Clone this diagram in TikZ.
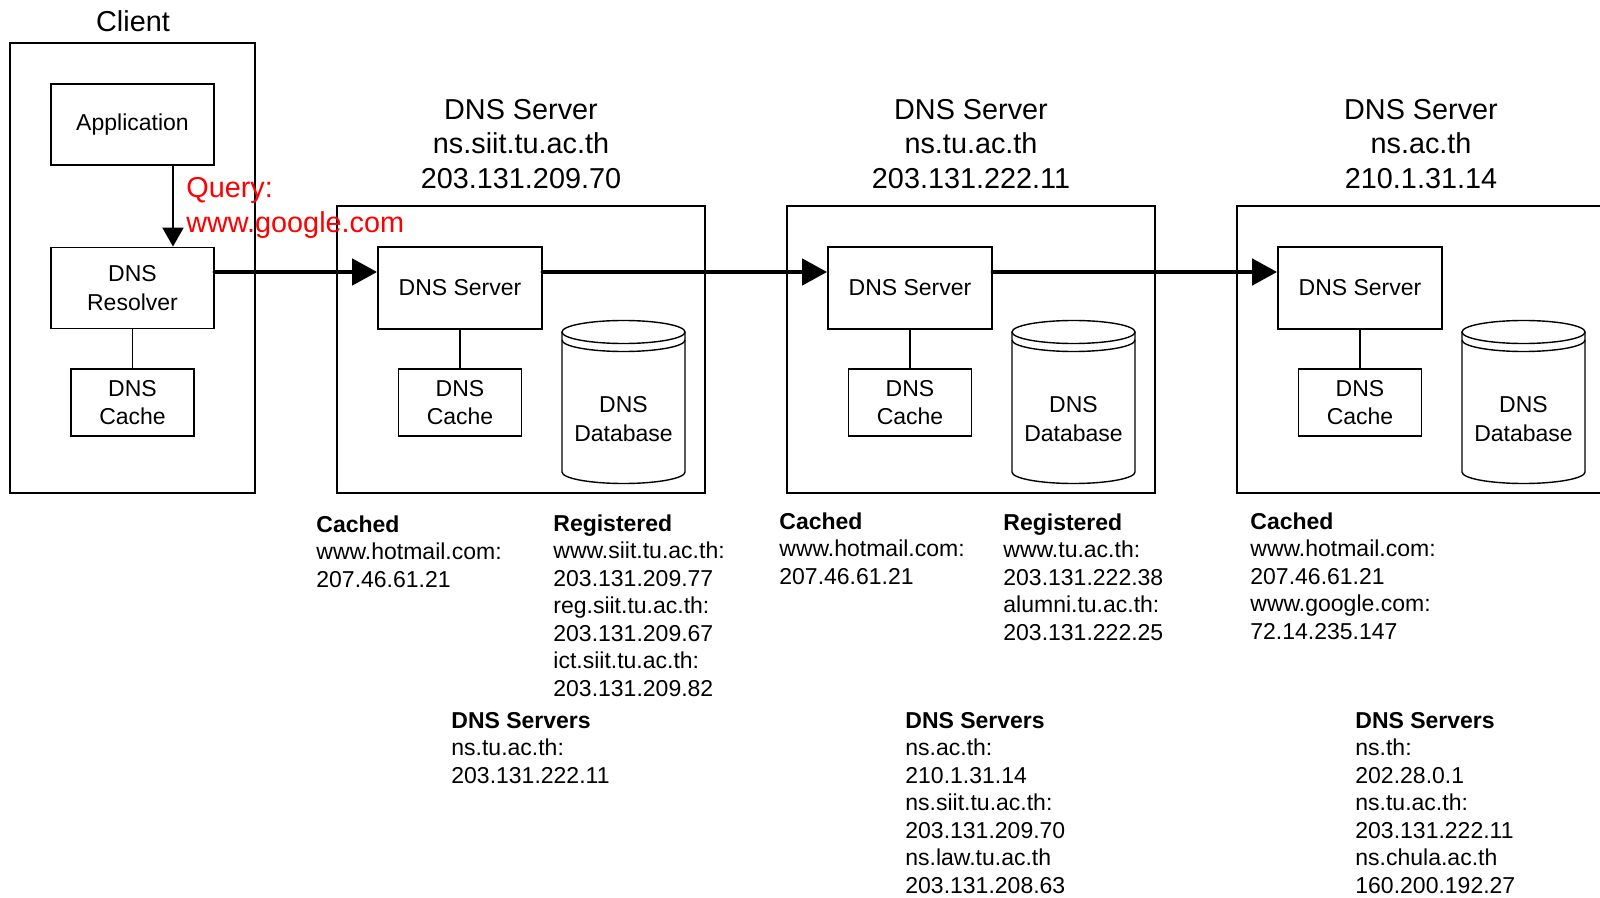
\documentclass[tikz,border=0pt]{standalone}
\usepackage{fontspec}
\setmainfont{Liberation Sans}
\usetikzlibrary{positioning}
\usetikzlibrary{arrows.meta}
\usetikzlibrary{calc}

\tikzset{
	blk/.style = {draw, line width=0.9pt, rectangle, inner sep=0pt, align=center, font=\fontsize{11.5}{14.3}\selectfont},
	outer/.style = {draw, line width=0.9pt, rectangle, inner sep=0pt},
	title/.style = {align=center, inner sep=0pt, font=\fontsize{14.4}{17.25}\selectfont},
	info/.style = {align=left, anchor=north west, inner sep=0pt, font=\fontsize{11.5}{13.75}\selectfont},
	link/.style = {line width=0.8pt},
	hop/.style = {line width=2.3pt, line cap=round, -{Triangle[length=12.5pt,width=13pt]}},
	query/.style = {line width=1pt, -{Triangle[length=9.5pt,width=10.5pt]}},
	drum/.style = {line width=0.7pt},
}

\begin{document}
\begin{tikzpicture}[x=0.5pt, y=-0.5pt]
		\path[use as bounding box] (0,0) rectangle (1600,898);

		% client side
		\node[outer, minimum width=122.5pt, minimum height=225pt] at (132.5,268) (client) {};
		\node[title] at (133,21) (clientlbl) {Client};
		\node[blk, minimum width=81.5pt, minimum height=40.5pt] at (132.5,124.5) (app) {Application};
		\node[blk, minimum width=81.5pt, minimum height=40.5pt] at (132.5,288) (res) {DNS\\Resolver};
		\node[blk, minimum width=61.5pt, minimum height=33.5pt] at (132.5,402.5) (ccache) {DNS\\Cache};

		% servers
		\node[outer, minimum width=184pt, minimum height=143.5pt] at (521,349.5) (box1) {};
		\node[outer, minimum width=184pt, minimum height=143.5pt] at (971,349.5) (box2) {};
		\begin{scope}
			\clip (0,0) rectangle (1600,898);
			\node[outer, minimum width=184pt, minimum height=143.5pt] at (1421,349.5) (box3) {};
		\end{scope}

		\node[title] at (521,144) (t1) {DNS Server\\ns.siit.tu.ac.th\\203.131.209.70};
		\node[title] at (971,144) (t2) {DNS Server\\ns.tu.ac.th\\203.131.222.11};
		\node[title] at (1421,144) (t3) {DNS Server\\ns.ac.th\\210.1.31.14};

		\node[blk, minimum width=82pt, minimum height=41pt] at (460,288) (srv1) {DNS Server};
		\node[blk, minimum width=82pt, minimum height=41pt] at (910,288) (srv2) {DNS Server};
		\node[blk, minimum width=82pt, minimum height=41pt] at (1360,288) (srv3) {DNS Server};

		\node[blk, minimum width=61.5pt, minimum height=33.5pt] at (460,402.5) (cache1) {DNS\\Cache};
		\node[blk, minimum width=61.5pt, minimum height=33.5pt] at (910,402.5) (cache2) {DNS\\Cache};
		\node[blk, minimum width=61.5pt, minimum height=33.5pt] at (1360,402.5) (cache3) {DNS\\Cache};

		% databases
		\draw[drum] (623.5,332) ellipse [x radius=30.75pt, y radius=5.75pt];
		\draw[drum] (562,332) -- (562,472) arc[start angle=180, end angle=360, x radius=30.75pt, y radius=5.75pt] -- (685,332);
		\draw[drum] (562,340) arc[start angle=180, end angle=360, x radius=30.75pt, y radius=5.75pt];
		\node[blk, draw=none] at (623.5,419) (db1) {DNS\\Database};

		\draw[drum] (1073.5,332) ellipse [x radius=30.75pt, y radius=5.75pt];
		\draw[drum] (1012,332) -- (1012,472) arc[start angle=180, end angle=360, x radius=30.75pt, y radius=5.75pt] -- (1135,332);
		\draw[drum] (1012,340) arc[start angle=180, end angle=360, x radius=30.75pt, y radius=5.75pt];
		\node[blk, draw=none] at (1073.5,419) (db2) {DNS\\Database};

		\draw[drum] (1523.5,332) ellipse [x radius=30.75pt, y radius=5.75pt];
		\draw[drum] (1462,332) -- (1462,472) arc[start angle=180, end angle=360, x radius=30.75pt, y radius=5.75pt] -- (1585,332);
		\draw[drum] (1462,340) arc[start angle=180, end angle=360, x radius=30.75pt, y radius=5.75pt];
		\node[blk, draw=none] at (1523.5,419) (db3) {DNS\\Database};

		% links
		\draw[link] (res) to (ccache);
		\draw[link] (srv1) to (cache1);
		\draw[link] (srv2) to (cache2);
		\draw[link] (srv3) to (cache3);
		\draw[query] ([xshift=20.25pt]app.south) to ([xshift=20.25pt]res.north);
		\draw[hop] ([yshift=8pt]res.east) to ([yshift=8pt]srv1.west);
		\draw[hop] ([yshift=8pt]srv1.east) to ([yshift=8pt]srv2.west);
		\draw[hop] ([yshift=8pt]srv2.east) to ([yshift=8pt]srv3.west);

		\node[info, text=red, font=\fontsize{14.4}{17.5}\selectfont] at (186,177) (qry) {Query:\\www.google.com};

		% tables
		\node[info] at (316,515) (cached1) {\textbf{Cached}\\www.hotmail.com:\\207.46.61.21};
		\node[info] at (553,514) (reg1) {\textbf{Registered}\\www.siit.tu.ac.th:\\203.131.209.77\\reg.siit.tu.ac.th:\\203.131.209.67\\ict.siit.tu.ac.th:\\203.131.209.82};
		\node[info] at (451,712) (ns1) {\textbf{DNS Servers}\\ns.tu.ac.th:\\203.131.222.11};

		\node[info] at (779,512) (cached2) {\textbf{Cached}\\www.hotmail.com:\\207.46.61.21};
		\node[info] at (1003,513) (reg2) {\textbf{Registered}\\www.tu.ac.th:\\203.131.222.38\\alumni.tu.ac.th:\\203.131.222.25};
		\node[info] at (905,712) (ns2) {\textbf{DNS Servers}\\ns.ac.th:\\210.1.31.14\\ns.siit.tu.ac.th:\\203.131.209.70\\ns.law.tu.ac.th\\203.131.208.63};

		\node[info] at (1250,512) (cached3) {\textbf{Cached}\\www.hotmail.com:\\207.46.61.21\\www.google.com:\\72.14.235.147};
		\node[info] at (1355,712) (ns3) {\textbf{DNS Servers}\\ns.th:\\202.28.0.1\\ns.tu.ac.th:\\203.131.222.11\\ns.chula.ac.th\\160.200.192.27};
	\end{tikzpicture}
\end{document}
